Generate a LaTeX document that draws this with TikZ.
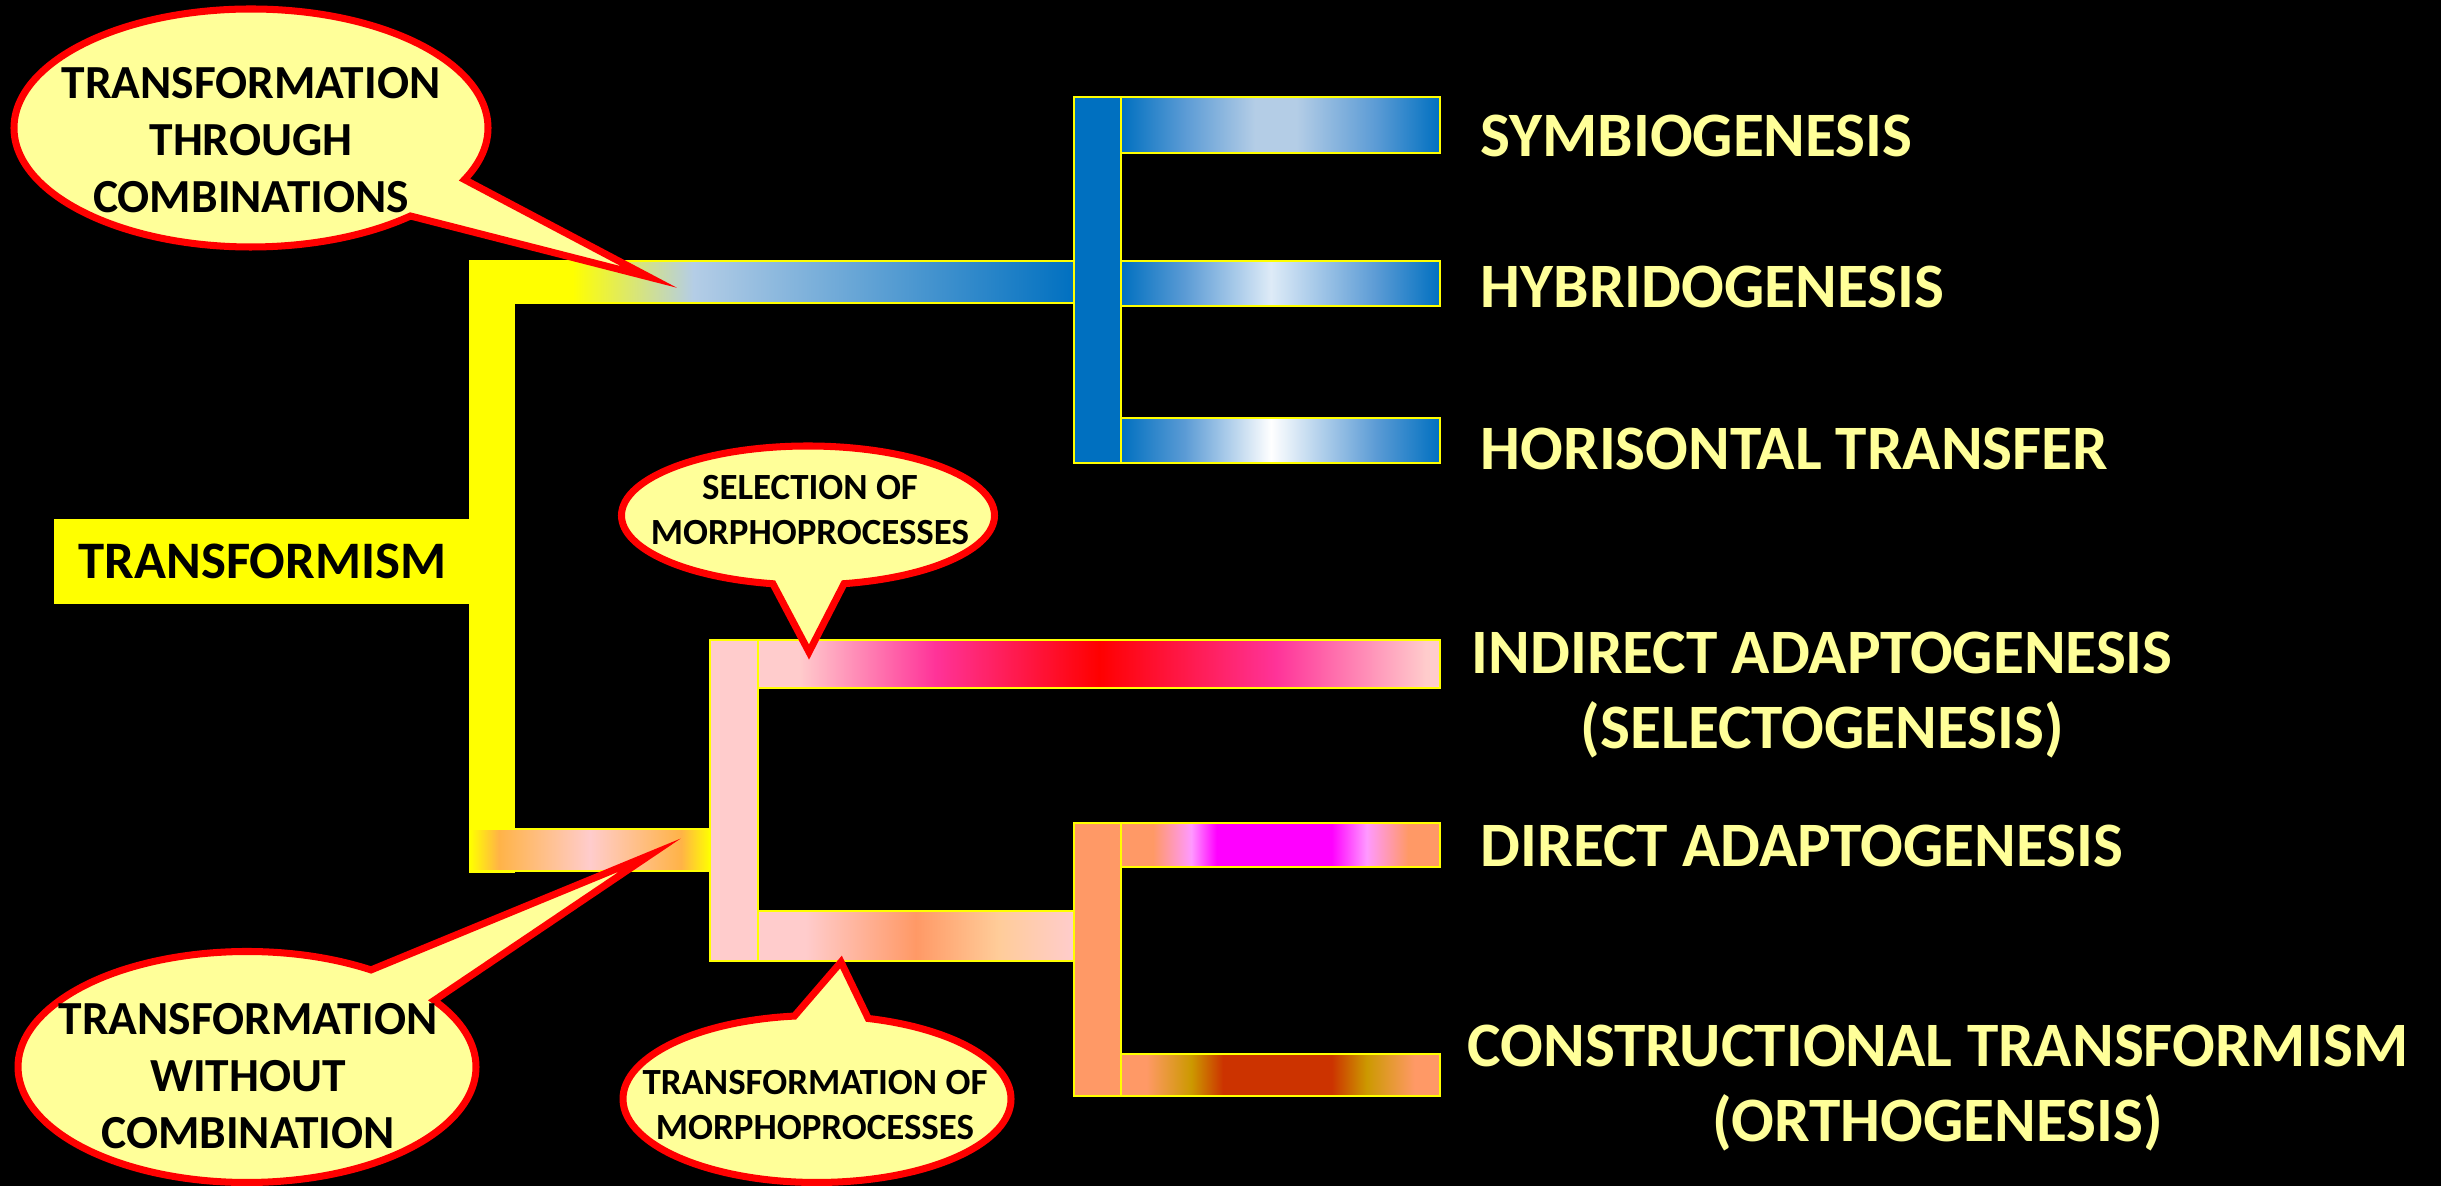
\documentclass[tikz,border=0pt]{standalone}
\usepackage{fontspec}
\setmainfont{Carlito}
\usepackage{xcolor}
\definecolor{evyellow}{RGB}{255,255,0}
\definecolor{evpale}{RGB}{255,255,153}
\definecolor{evblue}{RGB}{0,112,192}
\definecolor{evmid}{RGB}{91,155,213}
\definecolor{evsky}{RGB}{180,205,230}
\definecolor{evice}{RGB}{222,235,247}
\definecolor{evrose}{RGB}{255,204,204}
\definecolor{evpink}{RGB}{255,51,153}
\definecolor{evred}{RGB}{255,0,0}
\definecolor{evsalmon}{RGB}{255,153,102}
\definecolor{evpeach}{RGB}{255,204,153}
\definecolor{evorange}{RGB}{255,179,71}
\definecolor{evmagenta}{RGB}{255,0,255}
\definecolor{evlilac}{RGB}{255,153,255}
\definecolor{evgold}{RGB}{204,153,0}
\definecolor{evrust}{RGB}{204,51,0}
\usepackage{tikz}
\usetikzlibrary{shapes.geometric, shapes.callouts}
% bar edges sit at 25bp and 75bp
\pgfdeclarehorizontalshading{upshade}{100bp}{color(0bp)=(evyellow); color(33.5bp)=(evyellow); color(43.5bp)=(evsky); color(75bp)=(evblue); color(100bp)=(evblue)}
\pgfdeclarehorizontalshading{lowshade}{100bp}{color(0bp)=(evyellow); color(25bp)=(evyellow); color(31bp)=(evorange); color(50bp)=(evrose); color(69bp)=(evorange); color(75bp)=(evyellow); color(100bp)=(evyellow)}
\pgfdeclarehorizontalshading{symbshade}{100bp}{color(0bp)=(evblue); color(25bp)=(evblue); color(35bp)=(evmid); color(46bp)=(evsky); color(52.5bp)=(evsky); color(65bp)=(evmid); color(75bp)=(evblue); color(100bp)=(evblue)}
\pgfdeclarehorizontalshading{hybrshade}{100bp}{color(0bp)=(evblue); color(25bp)=(evblue); color(35bp)=(evmid); color(48.5bp)=(evice); color(65bp)=(evmid); color(75bp)=(evblue); color(100bp)=(evblue)}
\pgfdeclarehorizontalshading{horishade}{100bp}{color(0bp)=(evblue); color(25bp)=(evblue); color(35bp)=(evmid); color(48.5bp)=(white); color(65bp)=(evmid); color(75bp)=(evblue); color(100bp)=(evblue)}
\pgfdeclarehorizontalshading{indirshade}{100bp}{color(0bp)=(evrose); color(28bp)=(evrose); color(38bp)=(evpink); color(50bp)=(evred); color(63bp)=(evpink); color(74bp)=(evrose); color(100bp)=(evrose)}
\pgfdeclarehorizontalshading{transshade}{100bp}{color(0bp)=(evrose); color(32.5bp)=(evrose); color(50bp)=(evsalmon); color(63bp)=(evpeach); color(75bp)=(evrose); color(100bp)=(evrose)}
\pgfdeclarehorizontalshading{directshade}{100bp}{color(0bp)=(evsalmon); color(30bp)=(evsalmon); color(36bp)=(evlilac); color(40bp)=(evmagenta); color(58bp)=(evmagenta); color(63.5bp)=(evlilac); color(70bp)=(evsalmon); color(100bp)=(evsalmon)}
\pgfdeclarehorizontalshading{constrshade}{100bp}{color(0bp)=(evsalmon); color(29bp)=(evsalmon); color(36bp)=(evgold); color(41bp)=(evrust); color(58bp)=(evrust); color(63.5bp)=(evgold); color(71bp)=(evsalmon); color(100bp)=(evsalmon)}

\begin{document}
\begin{tikzpicture}[
  bar/.style={rectangle, draw=evyellow, line width=0.6pt, inner sep=0pt},
  stem/.style={bar, fill=#1},
  branch/.style={bar, shade, shading=#1},
  lbl/.style={font=\fontsize{18}{21.6}\selectfont\bfseries, text=evpale,
              align=center, inner sep=0pt, anchor=base west},
  bubble/.style={ellipse callout, draw=red, line width=2pt, fill=evpale,
                 inner sep=0pt, callout pointer arc=22},
  btxt/.style={font=\fontsize{13.5}{16.2}\selectfont\bfseries, align=center, inner sep=0pt},
  stxt/.style={font=\fontsize{10.5}{12.6}\selectfont\bfseries, align=center, inner sep=0pt}
]
\useasboundingbox[fill=black] (0,0) rectangle (24.41,11.86);

% Root and trunk
\node[stem=evyellow, minimum width=0.44cm, minimum height=6.11cm] (trunk) at (4.92,6.195) {};
\node[stem=evyellow, minimum width=4.15cm, minimum height=0.83cm,
      font=\fontsize{15}{18}\selectfont\bfseries] (root) at (2.625,6.245) {TRANSFORMISM};
\node[branch=upshade, minimum width=6.04cm, minimum height=0.42cm] (uplink) at (7.72,9.04) {};
\node[branch=lowshade, minimum width=2.40cm, minimum height=0.42cm] (lowlink) at (5.90,3.36) {};

% Upper group: combinations
\node[stem=evblue, minimum width=0.47cm, minimum height=3.66cm] (bstem) at (10.975,9.06) {};
\node[branch=symbshade, minimum width=3.19cm, minimum height=0.56cm] (symb) at (12.805,10.61) {};
\node[branch=hybrshade, minimum width=3.19cm, minimum height=0.45cm] (hybr) at (12.805,9.025) {};
\node[branch=horishade, minimum width=3.19cm, minimum height=0.45cm] (hori) at (12.805,7.455) {};
\node[lbl] (symb-lbl) at (14.80,10.29) {SYMBIOGENESIS};
\node[lbl] (hybr-lbl) at (14.80,8.78) {HYBRIDOGENESIS};
\node[lbl] (hori-lbl) at (14.80,7.16) {HORISONTAL TRANSFER};

% Lower group: no combination
\node[stem=evrose, minimum width=0.48cm, minimum height=3.21cm] (pstem) at (7.34,3.855) {};
\node[branch=indirshade, minimum width=6.82cm, minimum height=0.48cm] (indir) at (10.99,5.22) {};
\node[branch=transshade, minimum width=3.16cm, minimum height=0.50cm] (trans) at (9.16,2.50) {};
\node[stem=evsalmon, minimum width=0.47cm, minimum height=2.73cm] (ostem) at (10.975,2.265) {};
\node[branch=directshade, minimum width=3.19cm, minimum height=0.44cm] (direct) at (12.805,3.41) {};
\node[branch=constrshade, minimum width=3.19cm, minimum height=0.42cm] (constr) at (12.805,1.11) {};
\node[lbl] (indir-lbl) at (14.71,4.37) {INDIRECT ADAPTOGENESIS\\(SELECTOGENESIS)};
\node[lbl] (direct-lbl) at (14.80,3.19) {DIRECT ADAPTOGENESIS};
\node[lbl] (constr-lbl) at (14.67,0.44) {CONSTRUCTIONAL TRANSFORMISM\\(ORTHOGENESIS)};

% Callouts
\coordinate (combo-tip) at (6.49,9.09);
\node[bubble, minimum width=4.74cm, minimum height=2.38cm,
      callout absolute pointer={(combo-tip)}] (combo) at (2.51,10.58) {};
\node[btxt] (combo-txt) at (2.51,10.46) {TRANSFORMATION\\THROUGH\\COMBINATIONS};

\coordinate (nocombo-tip) at (6.50,3.31);
\node[bubble, minimum width=4.58cm, minimum height=2.31cm,
      callout absolute pointer={(nocombo-tip)}] (nocombo) at (2.47,1.19) {};
\node[btxt] (nocombo-txt) at (2.48,1.10) {TRANSFORMATION\\WITHOUT\\COMBINATION};

\coordinate (select-tip) at (8.09,5.34);
\node[bubble, minimum width=3.73cm, minimum height=1.39cm,
      callout absolute pointer={(select-tip)}] (select) at (8.08,6.705) {};
\node[stxt] (select-txt) at (8.10,6.76) {SELECTION OF\\MORPHOPROCESSES};

\coordinate (morph-tip) at (8.41,2.24);
\node[bubble, minimum width=3.88cm, minimum height=1.67cm,
      callout absolute pointer={(morph-tip)}] (morph) at (8.17,0.87) {};
\node[stxt] (morph-txt) at (8.15,0.81) {TRANSFORMATION OF\\MORPHOPROCESSES};
\end{tikzpicture}
\end{document}
